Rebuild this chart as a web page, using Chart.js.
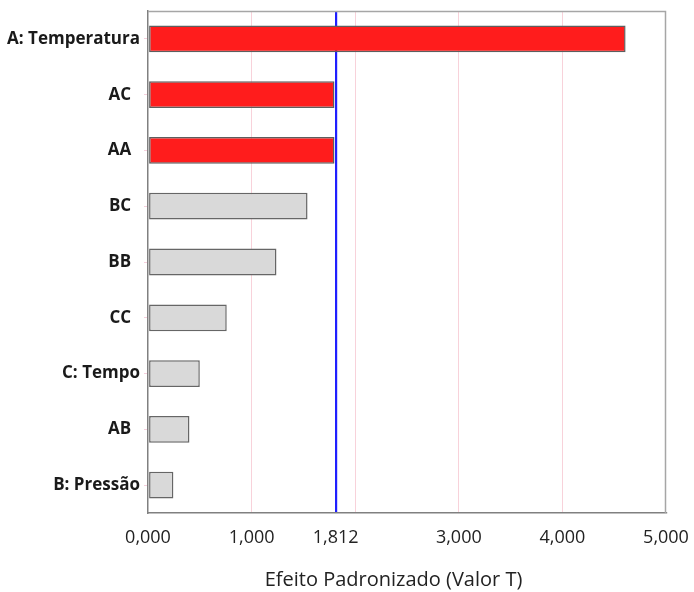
<!DOCTYPE html>
<html>
<head>
<meta charset="utf-8">
<script src="https://cdn.jsdelivr.net/npm/chart.js@4.4.1/dist/chart.umd.min.js"></script>
<style>
  html, body { margin: 0; padding: 0; background: #ffffff; }
  #wrap { width: 694px; height: 592px; position: relative; }
</style>
</head>
<body>
<div id="wrap"><canvas id="pareto"></canvas></div>
<script>
// Standardized effects (t values), ordered from largest to smallest
const categories = ['A: Temperatura', 'AC', 'AA', 'BC', 'BB', 'CC', 'C: Tempo', 'AB', 'B: Pressão'];
const effects = [4.61, 1.80, 1.80, 1.54, 1.24, 0.76, 0.50, 0.40, 0.245];
const highlighted = [true, true, true, false, false, false, false, false, false];
const criticalT = 1.812;
const xTickValues = [0, 1, criticalT, 3, 4, 5];
const xAxisTitle = 'Efeito Padronizado (Valor T)';

Chart.defaults.font.family = "'Open Sans', sans-serif";
Chart.defaults.color = '#222222';

const fmt = v => v.toFixed(3).replace('.', ',');

// frame around the plot area and the axis caption
const framePlugin = {
  id: 'frame',
  beforeDatasetsDraw(chart) {
    const { ctx, chartArea: a } = chart;
    ctx.save();
    ctx.strokeStyle = '#a6a6a6';
    ctx.lineWidth = 1.5;
    ctx.beginPath();
    ctx.moveTo(a.left, a.top + 0.5);
    ctx.lineTo(a.right - 0.5, a.top + 0.5);
    ctx.lineTo(a.right - 0.5, a.bottom);
    ctx.stroke();
    ctx.restore();
  },
  afterDraw(chart) {
    const { ctx, chartArea: a } = chart;
    ctx.save();
    ctx.font = "20px 'Open Sans', sans-serif";
    ctx.fillStyle = '#222222';
    ctx.textAlign = 'center';
    ctx.textBaseline = 'alphabetic';
    ctx.fillText(xAxisTitle, a.left + a.width * 0.474, a.bottom + 73);
    ctx.restore();
  }
};

new Chart(document.getElementById('pareto'), {
  type: 'bar',
  data: {
    labels: categories,
    datasets: [{
      data: effects,
      backgroundColor: highlighted.map(h => h ? '#ff1c1c' : '#d9d9d9'),
      borderColor: highlighted.map(h => h ? '#5e5e5e' : '#666666'),
      borderWidth: 1.5,
      borderSkipped: false,
      barPercentage: 0.48,
      categoryPercentage: 1
    }]
  },
  options: {
    indexAxis: 'y',
    responsive: true,
    maintainAspectRatio: false,
    animation: false,
    layout: { padding: { top: 11, right: 28, left: 0, bottom: 0 } },
    plugins: { legend: { display: false }, tooltip: { enabled: false } },
    scales: {
      x: {
        type: 'linear',
        min: 0,
        max: 5,
        z: 1,
        afterBuildTicks(scale) {
          scale.ticks = xTickValues.map(v => ({ value: v }));
        },
        afterFit(scale) {
          scale.height = 79;
          scale.paddingLeft = 0;
          scale.paddingRight = 0;
        },
        ticks: {
          padding: 14,
          font: { size: 18 },
          color: '#222222',
          callback: v => fmt(v)
        },
        grid: {
          drawTicks: false,
          color: ctx => (ctx.tick && ctx.tick.value === criticalT) ? '#1f1fff' : 'rgba(0,0,0,0)',
          lineWidth: 2.2
        },
        border: { display: true, color: '#808080', width: 1.5 }
      },
      xGrid: {
        type: 'linear',
        axis: 'x',
        position: 'bottom',
        min: 0,
        max: 5,
        afterFit(scale) {
          scale.height = 0;
          scale.paddingLeft = 0;
          scale.paddingRight = 0;
        },
        ticks: { display: false, stepSize: 1 },
        grid: {
          drawTicks: false,
          color: ctx => (ctx.tick && ctx.tick.value > 0 && ctx.tick.value < 5) ? '#f8d2da' : 'rgba(0,0,0,0)',
          lineWidth: 1
        },
        border: { display: false }
      },
      y: {
        afterFit(scale) {
          scale.width = 148;
          scale.paddingTop = 0;
          scale.paddingBottom = 0;
        },
        ticks: {
          padding: 4,
          font: { size: 17, weight: 'bold' },
          color: '#1a1a1a',
          callback(value) {
            const label = this.getLabelForValue(value);
            return label.length <= 2 ? label + '  ' : label;
          }
        },
        grid: {
          offset: false,
          drawOnChartArea: false,
          drawTicks: true,
          tickLength: 4,
          tickColor: '#f5cfdc'
        },
        border: { display: true, color: '#808080', width: 1.5 }
      }
    }
  },
  plugins: [framePlugin]
});
</script>
</body>
</html>
